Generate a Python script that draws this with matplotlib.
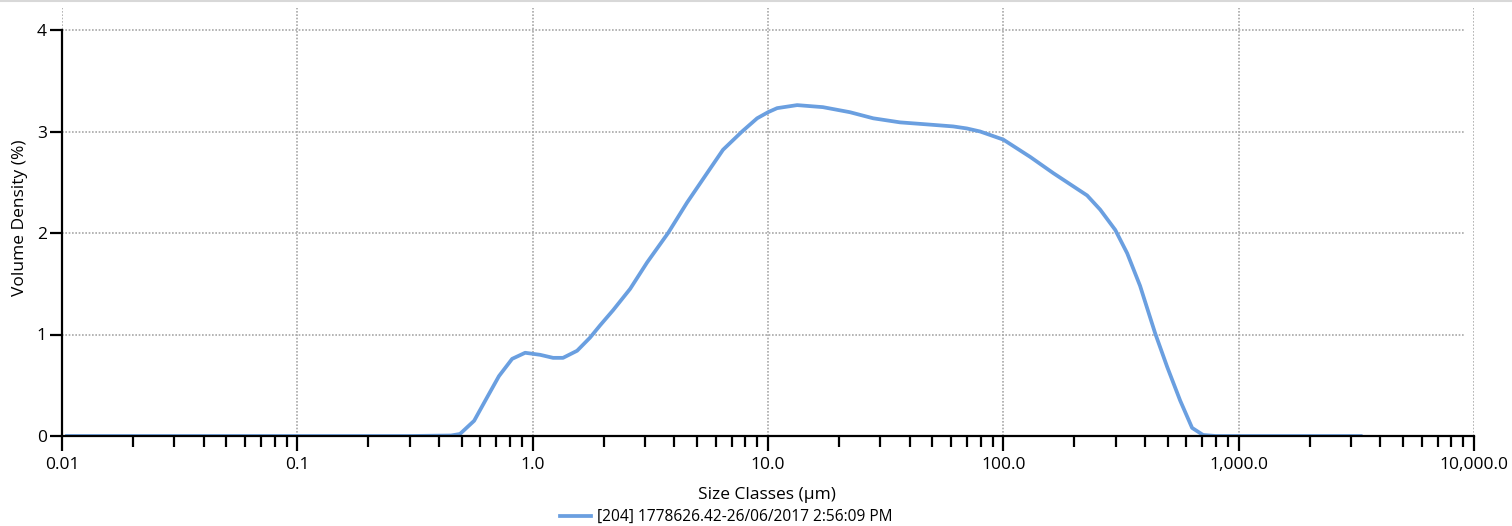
import numpy as np
import matplotlib.pyplot as plt
from matplotlib.ticker import FixedLocator, FixedFormatter, NullFormatter

plt.rcParams['font.family'] = ['Open Sans', 'DejaVu Sans']

# particle size classes (um) and volume density (%)
sizes = [0.0105, 0.3, 0.45, 0.491, 0.564, 0.640, 0.719, 0.818, 0.929, 1.075,
         1.221, 1.346, 1.545, 1.754, 1.934, 2.198, 2.596, 3.064, 3.763, 4.53,
         5.51, 6.44, 7.76, 8.99, 10.0, 10.93, 13.3, 17.1, 22.3, 28.0,
         36.4, 47.4, 61.2, 70.0, 79.7, 100, 130, 163, 227, 258,
         299, 336, 381, 442, 497, 564, 634, 706, 800, 3300]
volume = [0.0, 0.0, 0.005, 0.02, 0.15, 0.38, 0.59, 0.76, 0.82, 0.80,
          0.77, 0.77, 0.84, 0.97, 1.09, 1.24, 1.45, 1.71, 2.00, 2.30,
          2.59, 2.82, 3.00, 3.13, 3.19, 3.23, 3.26, 3.24, 3.19, 3.13,
          3.09, 3.07, 3.05, 3.03, 3.00, 2.92, 2.75, 2.59, 2.37, 2.23,
          2.03, 1.80, 1.48, 1.01, 0.68, 0.35, 0.08, 0.01, 0.0, 0.0]
series_label = '[204] 1778626.42-26/06/2017 2:56:09 PM'

major_x = [0.01, 0.1, 1, 10, 100, 1000, 10000]
major_x_labels = ['0.01', '0.1', '1.0', '10.0', '100.0', '1,000.0', '10,000.0']
y_ticks = [0, 1, 2, 3, 4]

fig = plt.figure(figsize=(15.12, 5.26), dpi=100)
ax = fig.add_axes([62 / 1512, 1 - 436 / 526, (1474 - 62) / 1512, 428 / 526])

ax.plot(sizes, volume, color='#6a9fe0', lw=2.7, label=series_label, zorder=3,
        solid_joinstyle='round')

ax.set_xscale('log')
ax.set_xlim(0.01, 10000)
ax.set_ylim(0, 428 / 101.5)

ax.xaxis.set_major_locator(FixedLocator(major_x))
ax.xaxis.set_major_formatter(FixedFormatter(major_x_labels))
minor = [m * 10.0 ** e for e in range(-2, 4) for m in range(2, 10)]
ax.xaxis.set_minor_locator(FixedLocator(minor))
ax.xaxis.set_minor_formatter(NullFormatter())
ax.set_yticks(y_ticks)

for s in ['top', 'right']:
    ax.spines[s].set_visible(False)
for s in ['left', 'bottom']:
    ax.spines[s].set_linewidth(1.6)
    ax.spines[s].set_zorder(4)
ax.spines['left'].set_bounds(0, 4)

ax.tick_params(axis='x', which='major', direction='out', length=11, width=1.6,
               labelsize=12.5, pad=4, colors='black')
ax.tick_params(axis='x', which='minor', direction='out', length=8, width=1.6)
ax.tick_params(axis='y', direction='out', length=9, width=1.6, labelsize=12.5, pad=2)

ax.grid(True, axis='x', which='major', color='#a8a8a8', lw=1.2, ls=(0, (1, 1)))
for v in y_ticks[1:]:
    ax.axhline(v, xmin=0, xmax=(1465 - 62) / (1474 - 62), color='#a8a8a8',
               lw=1.2, ls=(0, (1, 1)), zorder=1)

fig.text(20 / 1512, 1 - 218 / 526, 'Volume Density (%)', rotation=90,
         ha='center', va='center', fontsize=12.5)
fig.text(767 / 1512, 1 - 495 / 526, 'Size Classes (µm)', ha='center',
         va='center', fontsize=12.5)

fig.legend(loc='center', bbox_to_anchor=(726 / 1512, 1 - 517 / 526),
           frameon=False, fontsize=11.2, handlelength=2.0, handletextpad=0.4,
           borderpad=0, borderaxespad=0)

fig.add_artist(plt.Line2D([0, 1], [0.999, 0.999], color='#d8d8d8', lw=1.5))

fig.savefig('out.png', dpi=100)
